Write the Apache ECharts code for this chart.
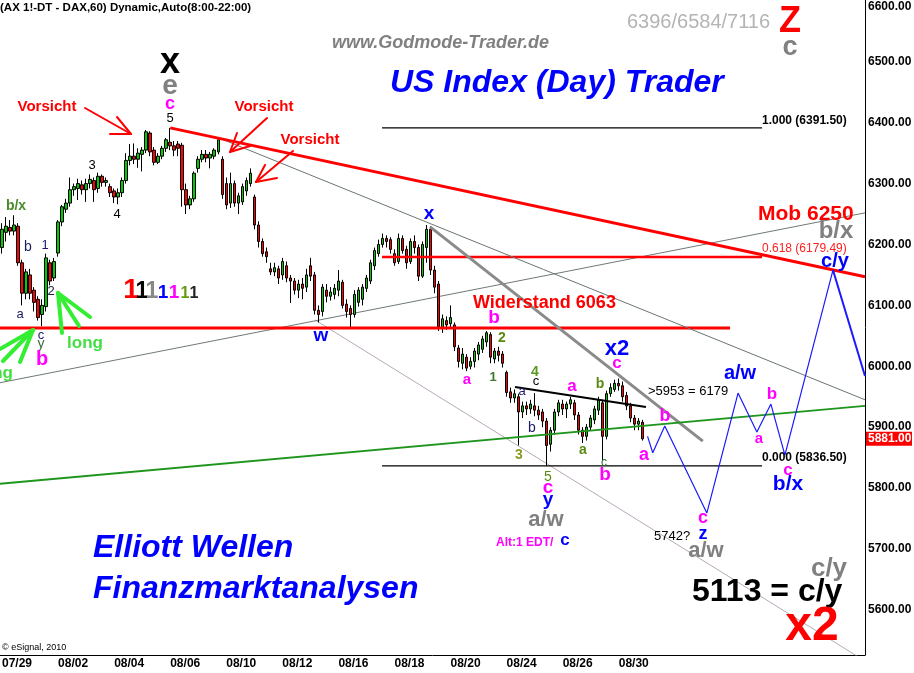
<!DOCTYPE html>
<html><head><meta charset="utf-8">
<script src="https://cdn.jsdelivr.net/npm/echarts@6/dist/echarts.min.js"></script>
<style>html,body{margin:0;padding:0;background:#fff}#c{width:914px;height:673px}</style>
</head><body><div id="c"></div>
<script>
// ---------- categories ----------
const days = ['07/29','07/30','08/02','08/03','08/04','08/05','08/06','08/09','08/10','08/11','08/12','08/13','08/16','08/17','08/18','08/19','08/20','08/23','08/24','08/25','08/26','08/27','08/30'];
const futureDays = ['08/31','09/01','09/02','09/03','09/06','09/07','09/08','09/09'];
const hours = ['09','11','13','15','17','19','21'];
const labelDays = ['07/29','08/02','08/04','08/06','08/10','08/12','08/16','08/18','08/20','08/24','08/26','08/30'];
const yTicks = [5600,5700,5800,5900,6000,6100,6200,6300,6400,6500];
const topTick = 6600;
const lastPrice = 5881;

// ---------- candles: [open, close, low, high] ----------
const c0729 = [[6195,6225,6185,6235],[6220,6230,6205,6245],[6228,6222,6215,6240],[6222,6232,6215,6248],[6230,6170,6165,6235],[6170,6120,6100,6175],[6120,6155,6110,6160]];
const c0730 = [[6150,6120,6110,6160],[6125,6105,6090,6130],[6110,6080,6075,6115],[6085,6100,6066,6110],[6098,6178,6090,6185],[6170,6140,6133,6175],[6145,6172,6140,6178]];
const c0802 = [[6186,6237,6180,6240],[6237,6262,6230,6265],[6258,6268,6252,6275],[6268,6290,6262,6310],[6290,6295,6280,6300],[6292,6300,6273,6308],[6298,6290,6282,6305]];
const c0803 = [[6290,6300,6270,6308],[6300,6307,6292,6315],[6305,6290,6270,6310],[6292,6312,6285,6318],[6312,6302,6295,6315],[6302,6305,6295,6310],[6295,6285,6278,6300]];
const c0804 = [[6288,6278,6268,6292],[6278,6285,6266,6292],[6285,6305,6278,6310],[6305,6338,6300,6350],[6338,6345,6330,6365],[6345,6340,6332,6366],[6340,6350,6326,6358]];
const c0805 = [[6348,6355,6320,6360],[6355,6385,6350,6388],[6383,6352,6345,6386],[6355,6335,6330,6360],[6335,6345,6332,6350],[6345,6358,6340,6362],[6358,6372,6352,6375]];
const c0806 = [[6368,6362,6355,6391.5],[6362,6355,6345,6370],[6365,6358,6345,6370],[6363,6290,6262,6367],[6290,6265,6250,6300],[6265,6275,6258,6280],[6275,6317,6270,6320]];
const c0809 = [[6325,6340,6318,6345],[6340,6348,6335,6355],[6348,6342,6335,6355],[6342,6348,6325,6352],[6345,6355,6340,6358],[6352,6372,6348,6375],[6340,6282,6275,6345]];
const c0810 = [[6300,6265,6258,6310],[6268,6300,6260,6318],[6300,6268,6262,6305],[6268,6280,6250,6285],[6270,6295,6265,6300],[6288,6305,6280,6310],[6300,6317,6295,6325]];
const c0811 = [[6278,6232,6225,6282],[6232,6205,6195,6238],[6205,6185,6180,6210],[6188,6180,6170,6195],[6160,6155,6150,6170],[6155,6162,6148,6170],[6160,6145,6135,6165]];
const c0812 = [[6150,6172,6142,6178],[6165,6145,6138,6172],[6145,6140,6104,6150],[6140,6125,6118,6145],[6125,6135,6112,6142],[6135,6128,6110,6145],[6130,6150,6122,6160]];
const c0813 = [[6165,6148,6140,6178],[6150,6092,6085,6155],[6092,6085,6072,6100],[6090,6130,6082,6135],[6125,6115,6105,6135],[6115,6122,6108,6130],[6118,6128,6110,6135]];
const c0816 = [[6125,6140,6115,6158],[6138,6100,6095,6142],[6102,6090,6080,6110],[6095,6085,6064,6100],[6085,6118,6080,6125],[6105,6125,6098,6130],[6110,6130,6100,6135]];
const c0817 = [[6128,6145,6122,6150],[6140,6170,6135,6175],[6165,6190,6158,6195],[6185,6200,6180,6208],[6200,6210,6195,6218],[6210,6205,6195,6215],[6208,6192,6185,6212]];
const c0818 = [[6185,6170,6165,6192],[6172,6210,6168,6218],[6210,6190,6185,6215],[6192,6170,6160,6198],[6172,6205,6168,6210],[6205,6195,6185,6215],[6195,6148,6140,6200]];
const c0819 = [[6148,6200,6145,6205],[6195,6225,6170,6232],[6225,6158,6150,6230],[6158,6130,6120,6165],[6135,6065,6058,6140],[6062,6078,6055,6085],[6075,6068,6060,6082]];
const c0820 = [[6070,6080,6062,6100],[6068,6032,6025,6072],[6030,6008,5998,6035],[6005,6020,5995,6030],[6015,5997,5992,6020],[6000,6008,5995,6015],[6008,6025,5998,6030]];
const c0823 = [[6020,6035,6010,6040],[6028,6045,6022,6050],[6040,6055,6032,6058],[6052,6015,6005,6056],[6012,6025,6005,6030],[6025,6018,6008,6032],[6020,6005,5998,6025]];
const c0824 = [[5990,5957,5950,5993],[5958,5948,5940,5965],[5948,5955,5940,5962],[5950,5925,5870,5955],[5925,5935,5915,5942],[5935,5930,5920,5942],[5930,5938,5922,5945]];
const c0825 = [[5935,5928,5918,5956],[5928,5920,5912,5935],[5925,5910,5900,5930],[5910,5870,5836.5,5915],[5872,5895,5860,5900],[5895,5925,5888,5930],[5925,5940,5918,5945]];
const c0826 = [[5938,5930,5920,5945],[5930,5938,5915,5942],[5938,5945,5930,5950],[5940,5920,5912,5945],[5920,5895,5888,5925],[5895,5885,5874,5900],[5885,5900,5878,5905]];
const c0827 = [[5900,5915,5895,5920],[5912,5930,5905,5935],[5928,5945,5920,5950],[5940,5885,5846,5945],[5885,5955,5880,5960],[5955,5965,5950,5972],[5962,5972,5958,5978]];
const c0830 = [[5972,5968,5960,5980],[5968,5950,5942,5975],[5952,5935,5928,5958],[5935,5915,5908,5940],[5915,5905,5895,5920],[5905,5910,5895,5915],[5908,5881,5878,5912]];

// ---------- drawn lines: [barIndex, price] ----------
const resistance = [[-0.5,6063],[181.8,6063]];
const fibRange = [94.9,189.8];
const fib100 = 6391.5, fib618 = 6179.49, fib000 = 5836.5;
const redTrend = [[42,6391.5],[215.5,6147]];
const grayThin = [[54.9,6373],[215.5,5945]];
const grayThick = [[106.9,6229],[175,5877]];
const grayRising = [[-0.5,5973],[215.5,6252]];
const mauveLine = [[78.2,6076],[215.5,5516]];
const greenLine = [[-0.5,5807],[215.5,5935]];
const triangleTop = [[128.1,5966],[160.8,5933]];
const projection = [[161.2,5885],[162.5,5858],[165.5,5902],[176,5759],[183.8,5956],[188.5,5892],[192,5938],[195.5,5854],[207.5,6158]];
const projectionEnd = [[207.5,6158],[215.5,5984]];

// ---------- build ----------
const N = 216;
const cats = [];
days.concat(futureDays).forEach(d => hours.forEach(h => cats.push(d + ' ' + h)));
cats.length = N;
const labelIdx = new Set(labelDays.map(d => days.indexOf(d) * hours.length));
const candles = [].concat(c0729,c0730,c0802,c0803,c0804,c0805,c0806,c0809,c0810,c0811,c0812,c0813,c0816,c0817,c0818,c0819,c0820,c0823,c0824,c0825,c0826,c0827,c0830);

const FONT = '"Liberation Sans", Arial, sans-serif';
function seg(data, color, width, z) {
  return {type:'line', xAxisIndex:1, yAxisIndex:0, data, symbol:'none', silent:true, animation:false,
    clip:true, z: z || 3, lineStyle:{color, width}};
}

const chart = echarts.init(document.getElementById('c'));
chart.setOption({
  animation:false,
  backgroundColor:'#ffffff',
  grid:{left:0, right:49, top:0, bottom:18, containLabel:false, outerBoundsMode:'none'},
  xAxis:[
    {type:'category', data:cats, boundaryGap:true,
      axisLine:{show:true, onZero:false, lineStyle:{color:'#000', width:1}},
      axisTick:{show:false}, splitLine:{show:false},
      axisLabel:{interval:(i)=>labelIdx.has(i), formatter:(v)=>v.split(' ')[0], align:'left',
        color:'#000', fontWeight:'bold', fontSize:12, fontFamily:FONT, margin:3}},
    {type:'value', min:-0.5, max:N-0.5, show:false, axisLine:{onZero:false}}
  ],
  yAxis:[{type:'value', position:'right', min:5525.9, max:6601.5, scale:true,
    splitLine:{show:false}, axisTick:{show:false},
    axisLine:{show:true, onZero:false, lineStyle:{color:'#000', width:1}},
    axisLabel:{customValues:yTicks, formatter:(v)=>Number(v).toFixed(2), color:'#000', fontWeight:'bold',
      fontSize:12, fontFamily:FONT, margin:3, align:'left'}}],
  series:[
    seg(mauveLine,'#b8a8b8',1,2),
    seg(grayRising,'#707878',1,2),
    {type:'candlestick', xAxisIndex:0, yAxisIndex:0, data:candles, barWidth:3, z:3,
      itemStyle:{color:'#00cc00', color0:'#ff0000', borderColor:'#000', borderColor0:'#000', borderWidth:1}},
    seg(resistance,'#ff0000',3,4),
    seg([[fibRange[0],fib100],[fibRange[1],fib100]],'#000',1.2,4),
    seg([[fibRange[0],fib618],[fibRange[1],fib618]],'#ff0000',2.5,4),
    seg([[fibRange[0],fib000],[fibRange[1],fib000]],'#000',1.2,4),
    seg(grayThin,'#6a7474',1,4),
    seg(grayThick,'#8a8a8a',3,4),
    seg(greenLine,'#1e961e',2,4),
    seg(triangleTop,'#000',2,4),
    seg(redTrend,'#ff0000',3,5),
    seg(projection,'#1a1aff',1.2,5),
    seg(projectionEnd,'#1a1aff',2,5)
  ]
});

// ---------- annotations ----------
function T(text, x, y, color, size, o) {
  o = o || {};
  const font = (o.italic ? 'italic ' : '') + (o.normal ? 'normal ' : 'bold ') + size + 'px ' + FONT;
  return {type:'text', x, y, silent:true, z:100,
    style:{text, fill:color, font, align:o.align || 'center', verticalAlign:'middle'}};
}
function P(points, color, width) {
  return {type:'polyline', silent:true, z:90, shape:{points},
    style:{stroke:color, lineWidth:width, fill:null, lineCap:'round', lineJoin:'round'}};
}
const M = '#ff00ff', B = '#0000ff', G = '#808080', OL = '#5a8a10', NV = '#1a1a66', R = '#ff0000';
const els = [
  T('(AX 1!-DT - DAX,60) Dynamic,Auto(8:00-22:00)', 0, 8, '#000', 11.5, {align:'left'}),
  T('www.Godmode-Trader.de', 332, 43, G, 18, {align:'left', italic:true}),
  T('6396/6584/7116', 627, 22, '#b4b4b4', 20, {align:'left', normal:true}),
  T('Z', 790, 22, R, 36),
  T('c', 790, 48, G, 27),
  T('US Index (Day) Trader', 390, 83, B, 32, {align:'left', italic:true}),
  T('x', 170, 63, '#000', 36),
  T('e', 170, 86, G, 28),
  T('c', 170, 104, M, 18),
  T('5', 170, 118, '#000', 13, {normal:true}),
  T('Vorsicht', 47, 107, R, 15),
  T('Vorsicht', 264, 107, R, 15),
  T('Vorsicht', 310, 140, R, 15),
  P([[85,108],[131,134]], R, 2), P([[110,134],[131,134],[117,117]], R, 2),
  P([[267,118],[230,152]], R, 2), P([[237,133],[230,152],[250,146]], R, 2),
  P([[293,151],[256,182]], R, 2), P([[265,165],[256,182],[277,178]], R, 2),
  T('3', 92, 165, '#000', 13, {normal:true}),
  T('4', 117, 214, '#000', 13, {normal:true}),
  T('b/x', 16, 206, '#4a8a2a', 14),
  T('b', 28, 247, NV, 14, {normal:true}),
  T('1', 45, 245, NV, 13, {normal:true}),
  T('2', 51, 291, '#202040', 13, {normal:true}),
  T('a', 20, 314, NV, 13, {normal:true}),
  T('c', 41, 335, NV, 13, {normal:true}),
  T('y', 41, 344, '#3a6a3a', 14, {normal:true}),
  T('b', 42, 359, M, 20),
  T('1', 131, 290, '#ff0000', 28),
  T('1', 142, 292, '#000', 23),
  T('1', 152, 292, '#888888', 23),
  T('1', 163, 293, '#0000ff', 19),
  T('1', 174, 293, '#ff00ff', 19),
  T('1', 185, 294, '#6a9a10', 16),
  T('1', 194, 294, '#222', 16),
  P([[58,293],[62,333]], '#33ee33', 4), P([[58,293],[79,326]], '#33ee33', 4), P([[58,293],[90,317]], '#33ee33', 4),
  P([[33,330],[0,349]], '#33ee33', 4), P([[33,330],[3,361]], '#33ee33', 4), P([[33,330],[20,362]], '#33ee33', 4),
  T('long', 85, 343, '#44dd44', 17),
  T('long', 13, 373, '#44dd44', 17, {align:'right'}),
  T('w', 321, 336, B, 19),
  T('x', 429, 214, B, 19),
  T('Widerstand 6063', 473, 303, R, 18, {align:'left'}),
  T('1.000 (6391.50)', 762, 121, '#000', 12, {align:'left'}),
  T('0.618 (6179.49)', 762, 249, '#ff2020', 12, {align:'left', normal:true}),
  T('0.000 (5836.50)', 762, 458, '#000', 12, {align:'left'}),
  T('Mob 6250', 758, 214, R, 21, {align:'left'}),
  T('b/x', 836, 231, G, 24),
  T('c/y', 835, 261, B, 20),
  T('b', 494, 318, M, 19),
  T('2', 502, 338, OL, 14),
  T('a', 467, 380, M, 15),
  T('1', 493, 377, '#3a7a2a', 13),
  T('4', 535, 372, '#5a9a20', 14),
  T('c', 536, 381, '#000', 13, {normal:true}),
  T('a', 522, 391, NV, 13, {normal:true}),
  T('b', 532, 428, NV, 14, {normal:true}),
  T('3', 519, 455, '#8a9a20', 14),
  T('a', 572, 386, M, 17),
  T('b', 600, 384, OL, 14),
  T('x2', 617, 349, B, 22),
  T('c', 617, 363, M, 17),
  T('a', 583, 450, OL, 14),
  T('c', 604, 463, '#2a6a2a', 12, {normal:true}),
  T('b', 605, 475, M, 19),
  T('5', 548, 477, OL, 14, {normal:true}),
  T('c', 548, 488, M, 19),
  T('y', 548, 500, B, 19),
  T('a/w', 546, 520, G, 22),
  T('Alt:1 EDT/', 496, 543, M, 12, {align:'left'}),
  T('c', 565, 540, B, 17),
  T('a', 644, 455, M, 18),
  T('>5953 = 6179', 648, 391, '#000', 13, {align:'left', normal:true}),
  T('b', 665, 416, M, 18),
  T('a/w', 740, 373, B, 20),
  T('a', 759, 439, M, 15),
  T('b', 772, 394, M, 17),
  T('c', 788, 470, M, 17),
  T('b/x', 788, 484, B, 21),
  T('5742?', 654, 536, '#000', 13, {align:'left', normal:true}),
  T('c', 703, 518, M, 18),
  T('z', 703, 534, B, 18),
  T('a/w', 706, 551, G, 22),
  T('c/y', 829, 569, G, 26),
  T('5113 = c/y', 692, 592, '#000', 32, {align:'left'}),
  T('x2', 812, 627, R, 48),
  T('Elliott Wellen', 93, 548, B, 32, {align:'left', italic:true}),
  T('Finanzmarktanalysen', 93, 589, B, 32, {align:'left', italic:true}),
  T('\u00a9 eSignal, 2010', 2, 648, '#000', 9, {align:'left', normal:true})
];
// axis extras placed through the scale
const yTop = chart.convertToPixel({yAxisIndex:0}, topTick);
els.push(T(topTick.toFixed(2), 868, Math.max(yTop, 7), '#000', 12, {align:'left'}));
const yLast = chart.convertToPixel({yAxisIndex:0}, lastPrice);
els.push({type:'rect', silent:true, z:100, shape:{x:866, y:yLast-7, width:46, height:14}, style:{fill:'#ff0000'}});
els.push(T(lastPrice.toFixed(2), 868, yLast, '#ffffff', 12, {align:'left'}));
chart.setOption({graphic:{elements:els}});
</script>
</body></html>
